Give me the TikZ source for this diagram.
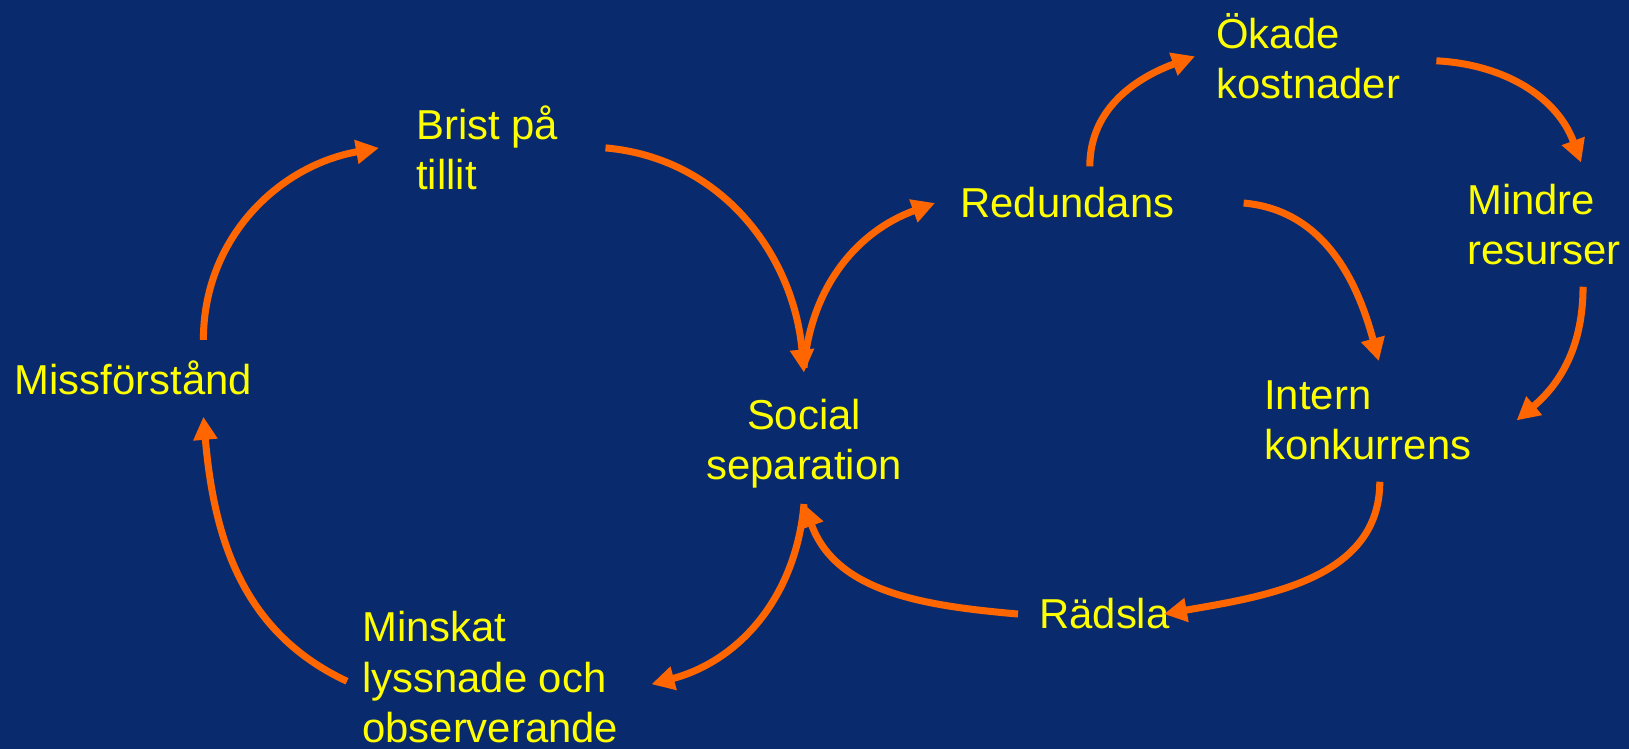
\documentclass[tikz,border=0pt]{standalone}
\usepackage{fontspec}
\setmainfont{Liberation Sans}
\usetikzlibrary{arrows.meta}
\definecolor{bgblue}{HTML}{0A2A6E}
\definecolor{ylw}{HTML}{FFFF00}
\definecolor{org}{HTML}{FF6600}
\begin{document}
\begin{tikzpicture}[>={Triangle[length=0.46cm,width=0.46cm]},
  lbl/.style={text=ylw, font=\fontsize{23.8}{28.9}\selectfont, inner sep=0pt, align=left, anchor=base west},
  flow/.style={->, draw=org, line width=4pt}]
  % bakgrund
  \fill[bgblue] (0,0) rectangle (32.58,14.98);
  \useasboundingbox (0,0) rectangle (32.58,14.98);
  % begrepp (baslinjen = sista raden)
  \node[lbl] (miss) at (0.29,7.08) {Missförstånd};
  \node[lbl] (brist) at (8.32,11.18) {Brist på\\tillit};
  \node[lbl, align=center, anchor=base] (social) at (16.08,5.38) {Social\\separation};
  \node[lbl] (redund) at (19.2,10.62) {Redundans};
  \node[lbl] (okade) at (24.32,13.0) {Ökade\\kostnader};
  \node[lbl] (mindre) at (29.34,9.68) {Mindre\\resurser};
  \node[lbl] (intern) at (25.28,5.78) {Intern\\konkurrens};
  \node[lbl] (radsla) at (20.78,2.40) {Rädsla};
  \node[lbl] (minskat) at (7.24,0.12) {Minskat\\lyssnade och\\observerande};
  % vänstra slingan
  \draw[flow] ([xshift=1.4cm,yshift=0.42cm]miss.north) to[out=90,in=190] ([xshift=-0.74cm]brist.west);
  \draw[flow] ([xshift=0.94cm]brist.east) to[out=-5,in=95] ([yshift=0.52cm]social.north);
  \draw[flow] ([yshift=-0.3cm]social.south) to[out=-95,in=15] ([xshift=0.66cm,yshift=-0.14cm]minskat.east);
  \draw[flow] ([xshift=-0.3cm,yshift=-0.08cm]minskat.west) to[out=155,in=-85] ([xshift=1.4cm,yshift=-0.42cm]miss.south);
  % högra slingan
  \draw[flow] ([yshift=0.62cm]social.north) to[out=85,in=200] ([xshift=-0.5cm]redund.west);
  \draw[flow] ([xshift=0.45cm,yshift=0.42cm]redund.north) to[out=90,in=200] ([xshift=-0.42cm]okade.west);
  \draw[flow] ([xshift=0.72cm,yshift=-0.09cm]okade.east) to[out=-3,in=110] ([xshift=0.74cm,yshift=0.42cm]mindre.north);
  \draw[flow] ([xshift=1.38cm]redund.east) to[out=-5,in=105] ([xshift=0.22cm,yshift=0.38cm]intern.north);
  \draw[flow] ([xshift=0.78cm,yshift=-0.42cm]mindre.south) to[out=-90,in=40] ([xshift=0.9cm]intern.east);
  \draw[flow] ([xshift=0.24cm,yshift=-0.42cm]intern.south) to[out=-90,in=10] ([xshift=-0.12cm]radsla.east);
  \draw[flow] ([xshift=-0.42cm]radsla.west) to[out=175,in=-70] ([yshift=-0.3cm]social.south);
\end{tikzpicture}
\end{document}
